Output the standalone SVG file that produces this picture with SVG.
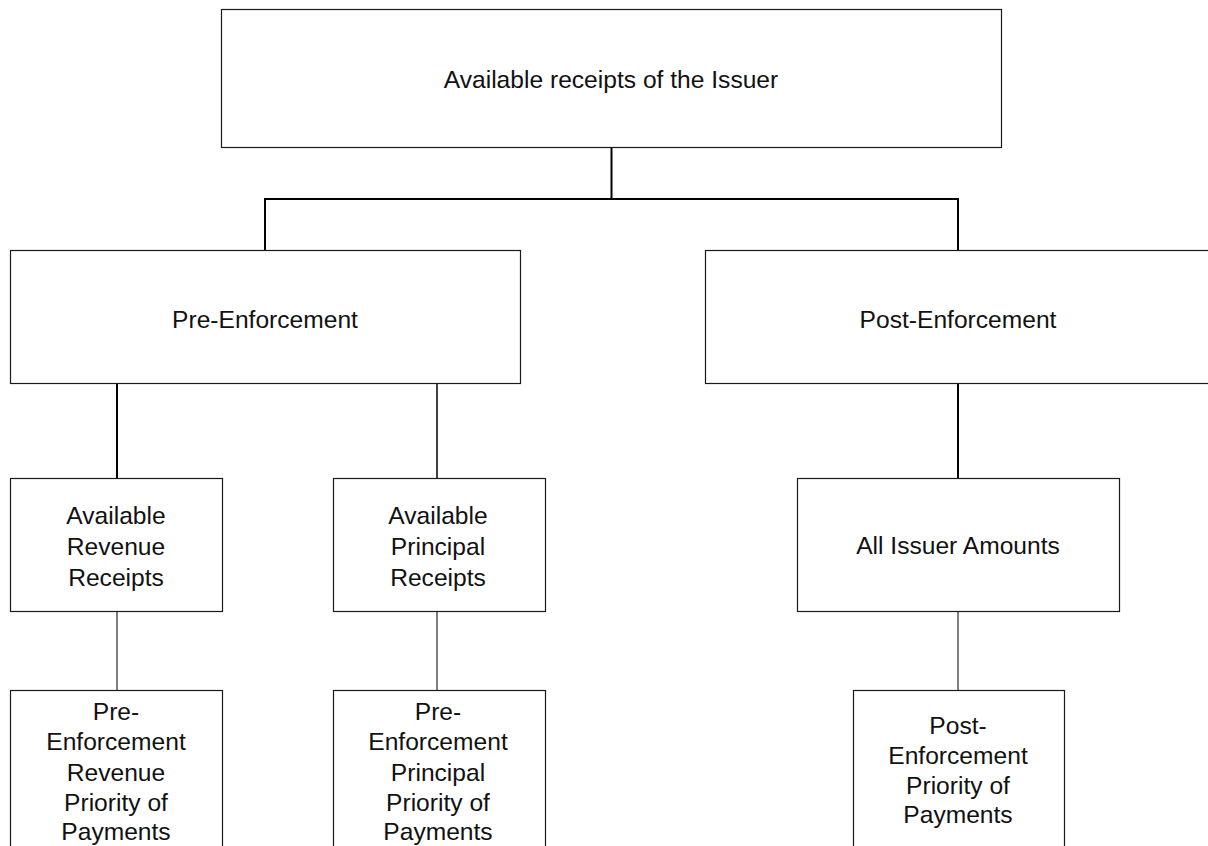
<svg xmlns="http://www.w3.org/2000/svg" width="1208" height="846" viewBox="0 0 1208 846">
<style>
.box{fill:#fff;stroke:#1a1a1a;stroke-width:1.2}
.t{font-family:"Liberation Sans",Arial,sans-serif;font-size:24.6px;fill:#111;text-anchor:middle}
.c{fill:none;stroke:#000;stroke-width:2}
.c2{fill:none;stroke:#000;stroke-width:1.5}
.c1{fill:none;stroke:#000;stroke-width:1}
</style>
<rect width="1208" height="846" fill="#fff"/>
<g id="connectors">
<path class="c" d="M611.5 147V199M265 199H958M265 198V250M958 198V250"/>
<path class="c" d="M117 383V478"/>
<path class="c2" d="M437 383V478"/>
<path class="c" d="M958 383V478"/>
<path class="c1" d="M117 611V690M437 611V690M958 611V690"/>
</g>
<g id="n-top"><rect class="box" x="221.5" y="9.5" width="780" height="138"/><text class="t" x="611" y="88">Available receipts of the Issuer</text></g>
<g id="n-pre"><rect class="box" x="10.5" y="250.5" width="510" height="133"/><text class="t" x="265" y="328">Pre-Enforcement</text></g>
<g id="n-post"><rect class="box" x="705.5" y="250.5" width="510" height="133"/><text class="t" x="958" y="328">Post-Enforcement</text></g>
<g id="n-arr"><rect class="box" x="10.5" y="478.5" width="212" height="133"/><text class="t" x="116" y="524">Available</text><text class="t" x="116" y="555">Revenue</text><text class="t" x="116" y="586">Receipts</text></g>
<g id="n-apr"><rect class="box" x="333.5" y="478.5" width="212" height="133"/><text class="t" x="438" y="524">Available</text><text class="t" x="438" y="555">Principal</text><text class="t" x="438" y="586">Receipts</text></g>
<g id="n-aia"><rect class="box" x="797.5" y="478.5" width="322" height="133"/><text class="t" x="958" y="554">All Issuer Amounts</text></g>
<g id="n-perp"><rect class="box" x="10.5" y="690.5" width="212" height="170"/><text class="t" x="116" y="720">Pre-</text><text class="t" x="116" y="750">Enforcement</text><text class="t" x="116" y="780.5">Revenue</text><text class="t" x="116" y="810.5">Priority of</text><text class="t" x="116" y="840">Payments</text></g>
<g id="n-pepp"><rect class="box" x="333.5" y="690.5" width="212" height="170"/><text class="t" x="438" y="720">Pre-</text><text class="t" x="438" y="750">Enforcement</text><text class="t" x="438" y="780.5">Principal</text><text class="t" x="438" y="810.5">Priority of</text><text class="t" x="438" y="840">Payments</text></g>
<g id="n-popp"><rect class="box" x="853.5" y="690.5" width="211" height="170"/><text class="t" x="958" y="734">Post-</text><text class="t" x="958" y="764">Enforcement</text><text class="t" x="958" y="794">Priority of</text><text class="t" x="958" y="823">Payments</text></g>
</svg>
